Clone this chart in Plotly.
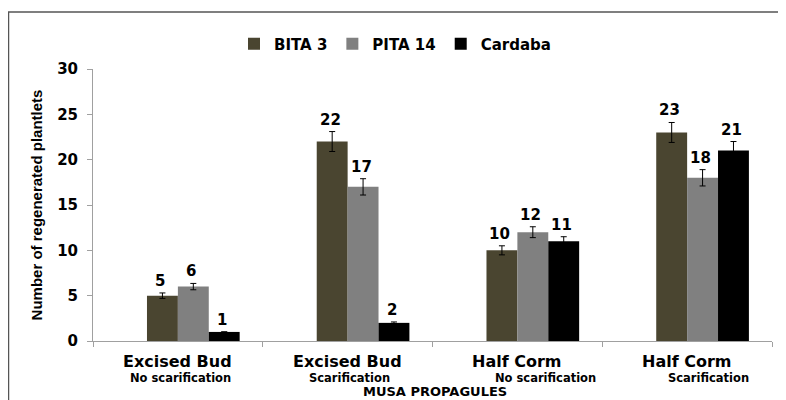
import plotly.graph_objects as go

categories = ["Excised Bud", "Excised Bud ", "Half Corm", "Half Corm "]
main_labels = ["Excised Bud", "Excised Bud", "Half Corm", "Half Corm"]
sub_labels = ["No scarification", "Scarification", "No scarification", "Scarification"]
series_names = ["BITA 3", "PITA 14", "Cardaba"]
bita3 = [5, 22, 10, 23]
pita14 = [6, 17, 12, 18]
cardaba = [1, 2, 11, 21]
bita3_err = [0.3, 1.1, 0.5, 1.1]
pita14_err = [0.35, 0.9, 0.6, 0.9]
cardaba_err = [0.0, 0.1, 0.5, 1.0]
y_ticks = [0, 5, 10, 15, 20, 25, 30]
x_title = "MUSA PROPAGULES"
y_title = "Number of regenerated plantlets"

colors = ["#4a4530", "#808080", "#000000"]
values = [bita3, pita14, cardaba]
errors = [bita3_err, pita14_err, cardaba_err]
bw = 0.182
offsets = [-bw, 0.0, bw]

# page body has an 8px margin; figure occupies page (8,8)..(786,400)
PAGE_OFF = 8
W, H = 786 - PAGE_OFF, 400 - PAGE_OFF
PLOT_X0, PLOT_X1, PLOT_Y0, PLOT_Y1 = 93, 772, 69, 341  # page pixels
L = PLOT_X0 - PAGE_OFF
R = W - (PLOT_X1 - PAGE_OFF)
T = PLOT_Y0 - PAGE_OFF
B = H - (PLOT_Y1 - PAGE_OFF)
pw, ph = W - L - R, H - T - B

def px_to_paper_x(px):
    return (px - PAGE_OFF - L) / pw

def px_to_paper_y(py):
    return (H - B - (py - PAGE_OFF)) / ph

FAM = "DejaVu Sans"

def bfont(size, family=FAM):
    return dict(family=family, size=size, color="#000000", weight="bold")

fig = go.Figure()
for name, vals, errs, col, off in zip(series_names, values, errors, colors, offsets):
    fig.add_trace(go.Bar(
        x=categories, y=vals, name=name, marker=dict(color=col, line=dict(width=0)),
        width=bw, offset=off,
        error_y=dict(type="data", array=errs, visible=True, color="#000000", thickness=1, width=3),
    ))

annotations = []
# data labels
for vals, errs, off in zip(values, errors, offsets):
    for i, (v, e) in enumerate(zip(vals, errs)):
        annotations.append(dict(
            x=i + off + bw / 2, y=v + e, xref="x", yref="y", text=str(v),
            showarrow=False, yanchor="bottom", yshift=1, xshift=-2,
            font=bfont(15),
        ))
# category labels
sub_shift = [3, 2, 28, 21]
for i, (m, s) in enumerate(zip(main_labels, sub_labels)):
    annotations.append(dict(
        x=i, y=px_to_paper_y(361), xref="x", yref="paper", text=m,
        showarrow=False, yanchor="middle", borderpad=0,
        font=bfont(16),
    ))
    annotations.append(dict(
        x=i, y=px_to_paper_y(378), xref="x", yref="paper", text=s,
        showarrow=False, yanchor="middle", xshift=sub_shift[i], borderpad=0,
        font=bfont(11.5),
    ))
annotations.append(dict(
    x=px_to_paper_x(435), y=px_to_paper_y(400), xref="paper", yref="paper",
    text=x_title, showarrow=False, yanchor="bottom", xanchor="center",
    font=bfont(13), borderpad=0,
))

shapes = [dict(
    type="path", xref="paper", yref="paper",
    path="M %f,%f L %f,%f L %f,%f" % (
        px_to_paper_x(8.5), px_to_paper_y(404), px_to_paper_x(8.5), px_to_paper_y(12),
        px_to_paper_x(790), px_to_paper_y(12)),
    line=dict(color="#555555", width=1.5),
)]

fig.update_layout(
    width=W, height=H,
    margin=dict(l=L, r=R, t=T, b=B, pad=0, autoexpand=False),
    paper_bgcolor="white", plot_bgcolor="white",
    barmode="overlay",
    showlegend=True,
    legend=dict(
        orientation="h", x=px_to_paper_x(395), xanchor="center",
        y=px_to_paper_y(44), yanchor="middle",
        font=bfont(15),
        itemwidth=30, bgcolor="rgba(0,0,0,0)",
    ),
    xaxis=dict(
        type="category", showticklabels=False, showgrid=False, automargin=False,
        showline=True, linecolor="#a0a0a0", linewidth=1,
        ticks="outside", tickson="boundaries", ticklen=5, tickcolor="#a0a0a0",
        range=[-0.5, 3.5],
    ),
    yaxis=dict(
        range=[0, 30], tickvals=y_ticks, showgrid=False, zeroline=False, automargin=False,
        showline=True, linecolor="#a0a0a0", linewidth=1,
        ticks="outside", ticklen=5, tickcolor="#a0a0a0",
        tickfont=bfont(15),
        ticklabelstandoff=6,
        title=dict(text=y_title, standoff=10,
                   font=bfont(15, "Liberation Sans")),
    ),
    annotations=annotations,
    shapes=shapes,
)

fig.write_html("out.html")
